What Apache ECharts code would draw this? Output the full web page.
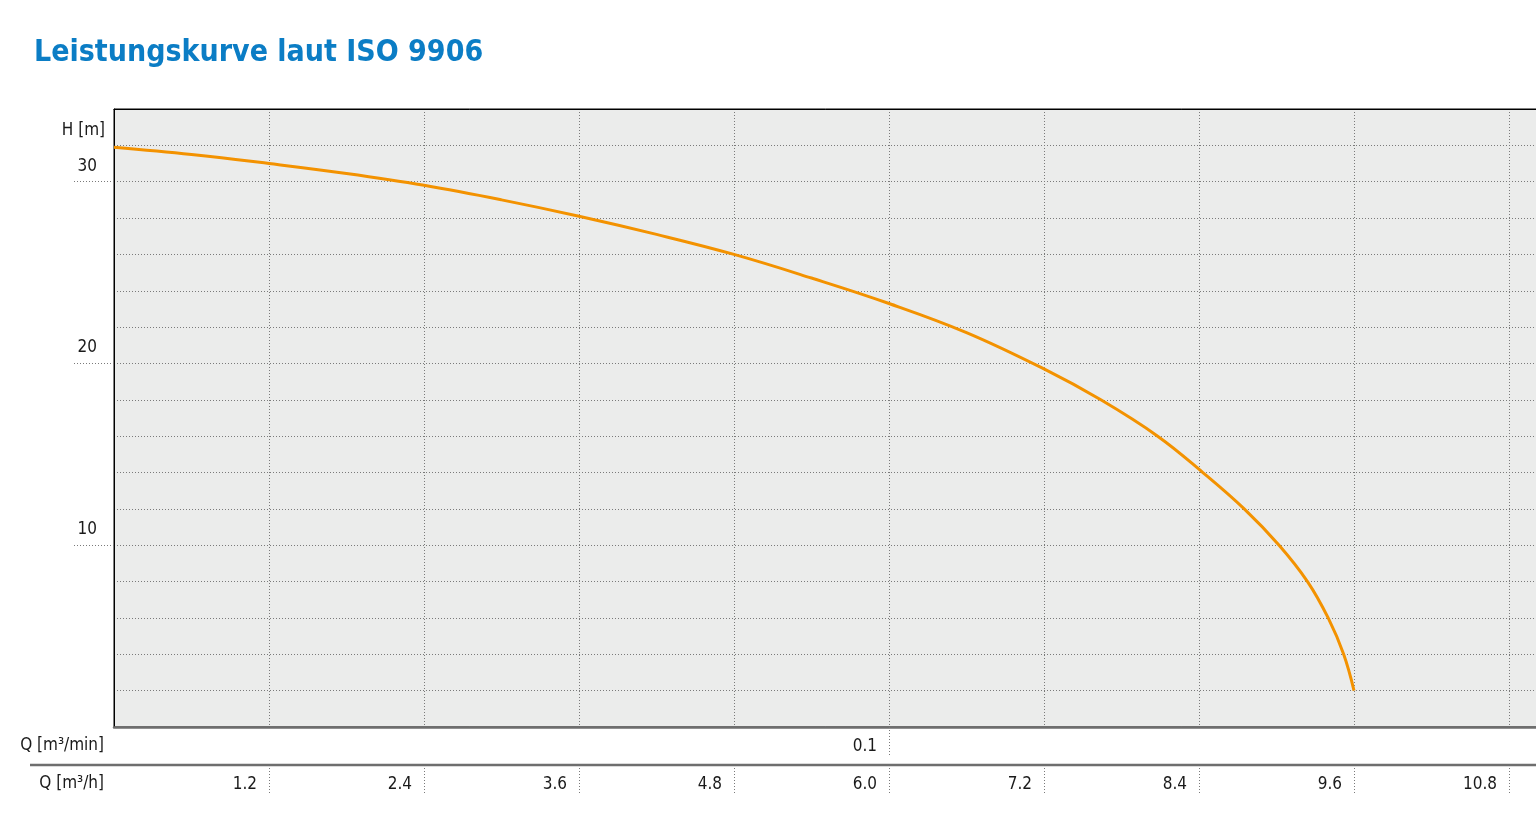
<!DOCTYPE html>
<html><head><meta charset="utf-8">
<script src="https://cdn.jsdelivr.net/npm/echarts@6/dist/echarts.min.js"></script>
<style>html,body{margin:0;padding:0;background:#fff}#c{width:1536px;height:827px}</style>
</head><body><div id="c"></div>
<script>
// ---- data ----
const titleText = 'Leistungskurve laut ISO 9906';
const flowM3h = [0, 0.6, 1.2, 1.8, 2.4, 3.0, 3.6, 4.2, 4.8, 5.4, 6.0, 6.6, 7.2, 7.64, 8.08, 8.43, 8.75, 9.02, 9.24, 9.40, 9.52, 9.6];
const headM   = [31.9, 31.5, 31.0, 30.45, 29.8, 29.0, 28.1, 27.1, 26.0, 24.7, 23.3, 21.7, 19.7, 18.0, 16.0, 14.0, 12.0, 10.0, 8.0, 6.0, 4.0, 2.0];
const qhTicks = [1.2, 2.4, 3.6, 4.8, 6.0, 7.2, 8.4, 9.6, 10.8];
const qminTicks = [6.0];
const hTicks = [10, 20, 30];
const xName1 = 'Q [m³/min]';
const xName2 = 'Q [m³/h]';
const yName = 'H [m]';

// ---- chart ----
const FONT = "'DejaVu Sans Condensed','Liberation Sans Narrow','Liberation Sans',sans-serif";
const TXT = '#1a1a1a';
const DOT = {color:'#7a7a7a', type:[1,2], width:1};
const GRID = {left:114, top:109, width:1550, bottom:100, outerBoundsMode:'none', containLabel:false};
const chart = echarts.init(document.getElementById('c'), null, {renderer:'canvas'});
const lbl = {fontFamily:FONT, fontSize:17, color:TXT};
const option = {
  animation:false,
  title:{text:titleText, left:29, top:33, textStyle:{fontFamily:FONT, fontWeight:'bold', fontSize:30, color:'#0b7dc5'}},
  grid:[
    Object.assign({show:true, backgroundColor:'#ebeceb', borderColor:'#000', borderWidth:1}, GRID),
    Object.assign({}, GRID),
    Object.assign({}, GRID)
  ],
  xAxis:[
    {gridIndex:0, type:'value', min:0, max:12, interval:1.2,
     axisLine:{show:true, onZero:false, lineStyle:{color:'#6e6e6e', width:2.5}},
     axisTick:{show:false}, axisLabel:{show:false},
     splitLine:{show:true, lineStyle:DOT}},
    {gridIndex:1, type:'value', min:0, max:12, position:'bottom',
     name:xName1, nameLocation:'start', nameGap:10,
     nameTextStyle:Object.assign({align:'right', verticalAlign:'top', padding:[10,0,0,0]}, lbl),
     axisLine:{show:false, onZero:false},
     axisTick:{show:true, customValues:qminTicks, length:29, lineStyle:DOT},
     axisLabel:Object.assign({customValues:qminTicks, formatter:v=>(v/60).toFixed(1), align:'right', padding:[0,12,0,0], margin:11}, lbl),
     splitLine:{show:false}},
    {gridIndex:2, type:'value', min:0, max:12, position:'bottom', offset:38,
     name:xName2, nameLocation:'start', nameGap:10,
     nameTextStyle:Object.assign({align:'right', verticalAlign:'top', padding:[10,0,0,0]}, lbl),
     axisLine:{show:false, onZero:false},
     axisTick:{show:true, customValues:qhTicks, length:30, lineStyle:DOT},
     axisLabel:Object.assign({customValues:qhTicks, formatter:v=>v.toFixed(1), align:'right', padding:[0,12,0,0], margin:11}, lbl),
     splitLine:{show:false}},
    {gridIndex:0, type:'value', min:0, max:12, position:'top',
     axisLine:{show:true, onZero:false, lineStyle:{color:'#000', width:1}},
     axisTick:{show:false}, axisLabel:{show:false}, splitLine:{show:false}}
  ],
  yAxis:[
    {gridIndex:0, type:'value', min:0, max:34, interval:2,
     axisLine:{show:true, lineStyle:{color:'#000', width:1}},
     axisTick:{show:false}, axisLabel:{show:false},
     splitLine:{show:true, lineStyle:DOT}},
    {gridIndex:1, type:'value', min:0, max:34,
     name:yName, nameLocation:'end', nameGap:-22,
     nameTextStyle:Object.assign({align:'right', verticalAlign:'middle', padding:[0,9,0,0]}, lbl),
     axisLine:{show:false},
     axisTick:{show:true, customValues:hTicks, length:42, lineStyle:DOT},
     axisLabel:Object.assign({customValues:hTicks, margin:17, verticalAlign:'bottom', padding:[0,0,7,0]}, lbl),
     splitLine:{show:false}},
    {gridIndex:2, type:'value', min:0, max:34, show:false}
  ],
  series:[{
    type:'line', xAxisIndex:0, yAxisIndex:0,
    data:flowM3h.map((q,i)=>[q, headM[i]]),
    smooth:0.4, showSymbol:false,
    lineStyle:{color:'#f39200', width:3}
  }],
  graphic:[{type:'line', z:10, shape:{x1:30, y1:765, x2:1536, y2:765}, style:{stroke:'#6e6e6e', lineWidth:2.5}}]
};
chart.setOption(option);
</script></body></html>
